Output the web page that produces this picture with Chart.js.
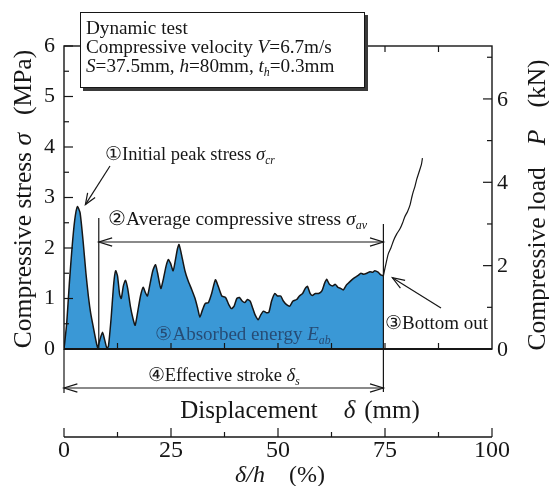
<!DOCTYPE html>
<html>
<head>
<meta charset="utf-8">
<script src="https://cdn.jsdelivr.net/npm/chart.js@4.4.1/dist/chart.umd.min.js"></script>
<style>
  html, body { margin: 0; padding: 0; background: #ffffff; }
  canvas { display: block; }
</style>
</head>
<body>
<canvas id="chart" width="549" height="486"></canvas>
<script>
// Stress–displacement record of the dynamic crush test (up to bottoming out)
const displacementMm = [
  0, 0.5, 1.0, 1.5, 2.0, 2.5, 3.0, 3.6, 4.1, 4.55, 5.0, 5.5, 6.0, 6.3, 6.7, 7.2, 7.6, 8.0, 8.3, 8.8,
  9.3, 9.65, 10.0, 10.4, 10.7, 11.1, 11.5, 11.9, 12.4, 12.9, 13.3, 13.8, 14.3, 14.8, 15.2, 15.6, 16.1, 16.6, 17.1, 17.5,
  18.1, 18.6, 19.1, 19.5, 19.9, 20.4, 20.8, 21.2, 21.5, 21.9, 22.6, 23.2, 23.9, 24.5, 25.0, 25.4, 25.9, 26.4, 27.0, 27.6,
  28.3, 28.8, 29.5, 30.2, 30.8, 31.3, 31.8, 32.3, 32.8, 33.3, 33.8, 34.3, 34.8, 35.3, 35.7, 36.3, 36.8, 37.3, 37.8, 38.3,
  38.8, 39.4, 39.9, 40.5, 41.0, 41.6, 42.2, 42.8, 43.5, 44.0, 44.6, 45.1, 45.5, 46.0, 46.4, 47.0, 47.6, 48.2, 48.7, 49.1,
  49.6, 50.2, 50.7, 51.2, 51.7, 52.2, 52.8, 53.3, 53.9, 54.4, 55.0, 55.5, 56.0, 56.6, 57.2, 57.7, 58.1, 58.7, 59.2, 59.7
];
const stressMPa = [
  0, 0.5, 1.3, 2.0, 2.55, 2.82, 2.7, 2.1, 1.5, 1.05, 0.7, 0.42, 0.15, 0.03, 0.18, 0.33, 0.18, 0.02, 0.05, 0.6,
  1.3, 1.55, 1.45, 1.08, 1.0, 1.25, 1.36, 1.2, 0.85, 0.6, 0.47, 0.75, 1.05, 1.22, 1.12, 1.05, 1.3, 1.55, 1.67, 1.5,
  1.2, 1.4, 1.65, 1.77, 1.7, 1.55, 1.75, 1.98, 2.07, 1.9, 1.55, 1.35, 1.17, 1.0, 0.8, 0.63, 0.78, 0.9, 0.92, 1.1,
  1.37, 1.25, 1.05, 1.02, 0.88, 0.8, 0.85, 1.0, 1.02, 0.95, 0.92, 0.98, 0.95, 0.8, 0.68, 0.58, 0.68, 0.75, 0.72, 0.73,
  0.95, 1.1, 1.05, 1.05, 0.95, 0.88, 0.85, 0.95, 0.98, 1.05, 1.1, 1.2, 1.24, 1.1, 1.06, 1.1, 1.1, 1.15, 1.3, 1.38,
  1.28, 1.25, 1.28, 1.22, 1.2, 1.17, 1.27, 1.32, 1.38, 1.42, 1.46, 1.5, 1.48, 1.5, 1.53, 1.52, 1.55, 1.52, 1.47, 1.45
];
// Load rise after bottoming out
const bottomOutMm = [59.7, 60.1, 60.6, 61.1, 61.6, 62.2, 62.8, 63.3, 63.7, 64.2, 64.7, 65.0, 65.3, 65.6, 65.9, 66.2, 66.5, 66.8, 67.0];
const bottomOutMPa = [1.45, 1.65, 1.88, 2.0, 2.15, 2.28, 2.38, 2.5, 2.62, 2.72, 2.86, 3.0, 3.12, 3.22, 3.35, 3.45, 3.55, 3.65, 3.78];

// Axis ticks
const stressTicks = [0, 1, 2, 3, 4, 5, 6];
const loadTicks = [0, 2, 4, 6];
const ratioTicks = [0, 25, 50, 75, 100];

// Test parameters
const specimenHeightMm = 80;
const loadAxisMaxKN = 7.27;
const avgStartMm = 6.5;     // start of the averaging range
const strokeEndMm = 59.7;   // bottom-out point = effective stroke

const SERIF = '"Liberation Serif", "Times New Roman", "DejaVu Serif", serif';
const INK = '#161616';
const FILL = '#3a98d6';

function fnt(px, italic) { return (italic ? 'italic ' : '') + px + 'px ' + SERIF; }

// Draw a run of text pieces (italic / subscript / extra gap) starting at x
function textRun(ctx, segs, x, y, size, align) {
  let w = 0;
  const parts = segs.map(s => {
    const sz = s.sub ? size * 0.62 : size;
    ctx.font = fnt(sz, s.it);
    const adv = ctx.measureText(s.t).width + (s.gap || 0);
    w += adv;
    return { s, sz, adv };
  });
  let cx = align === 'center' ? x - w / 2 : (align === 'right' ? x - w : x);
  ctx.textAlign = 'left';
  for (const p of parts) {
    ctx.font = fnt(p.sz, p.s.it);
    ctx.fillText(p.s.t, cx, y + (p.s.sub ? size * 0.22 : 0));
    cx += p.adv;
  }
}

function line(ctx, x1, y1, x2, y2) {
  ctx.beginPath(); ctx.moveTo(x1, y1); ctx.lineTo(x2, y2); ctx.stroke();
}

function arrowHead(ctx, x, y, ang, len, spread) {
  ctx.beginPath();
  ctx.moveTo(x - len * Math.cos(ang - spread), y - len * Math.sin(ang - spread));
  ctx.lineTo(x, y);
  ctx.lineTo(x - len * Math.cos(ang + spread), y - len * Math.sin(ang + spread));
  ctx.stroke();
}

const axesAndNotes = {
  id: 'axesAndNotes',
  afterDatasetsDraw(chart) {
    const { ctx, chartArea: a, scales } = chart;
    const sx = scales.x, sy = scales.y, sLoad = scales.load, sPct = scales.pct;
    ctx.save();
    ctx.strokeStyle = INK;
    ctx.fillStyle = INK;
    ctx.lineCap = 'butt';

    // frame
    ctx.lineWidth = 1.4;
    ctx.strokeRect(a.left, a.top, a.right - a.left, a.bottom - a.top);
    ctx.lineWidth = 2.2;
    line(ctx, a.left, a.bottom, a.right, a.bottom);

    // stress ticks (inside, left)
    ctx.lineWidth = 1.2;
    for (let v = 0; v <= 6.001; v += 0.5) {
      const y = sy.getPixelForValue(v);
      const len = Number.isInteger(v) ? 9 : 5;
      line(ctx, a.left, y, a.left + len, y);
    }
    // load ticks (inside, right)
    for (let v = 1; v <= loadAxisMaxKN; v += 1) {
      const y = sLoad.getPixelForValue(v);
      const len = v % 2 === 0 ? 9 : 5;
      line(ctx, a.right, y, a.right - len, y);
    }
    // displacement ticks on top and bottom edges
    for (let v = 10; v < specimenHeightMm; v += 10) {
      const x = sx.getPixelForValue(v);
      line(ctx, x, a.bottom, x, a.bottom - 6);
      line(ctx, x, a.top, x, a.top + 6);
    }

    // tick labels
    ctx.textBaseline = 'middle';
    ctx.font = fnt(22);
    ctx.textAlign = 'right';
    stressTicks.forEach(v => ctx.fillText(String(v), 55, sy.getPixelForValue(v)));
    ctx.textAlign = 'left';
    loadTicks.forEach(v => ctx.fillText(String(v), 497, sLoad.getPixelForValue(v) + 1));

    // δ/h axis below the plot
    const pctY = 437;
    ctx.lineWidth = 1.4;
    line(ctx, sPct.getPixelForValue(0), pctY, sPct.getPixelForValue(100), pctY);
    ctx.lineWidth = 1.2;
    for (let v = 0; v <= 100; v += 12.5) {
      const x = sPct.getPixelForValue(v);
      const len = v % 25 === 0 ? 9 : 5;
      line(ctx, x, pctY, x, pctY - len);
    }
    ctx.textBaseline = 'alphabetic';
    ctx.textAlign = 'center';
    ctx.font = fnt(24);
    ratioTicks.forEach(v => ctx.fillText(String(v), sPct.getPixelForValue(v), 457));
    textRun(ctx, [{ t: 'δ/h', it: true, gap: 24 }, { t: '(%)' }], 280, 482, 24, 'center');

    // axis titles
    textRun(ctx, [{ t: 'Displacement', gap: 26 }, { t: 'δ', it: true, gap: 9 }, { t: '(mm)' }], 300, 418, 25, 'center');

    ctx.save();
    ctx.translate(31, 199);
    ctx.rotate(-Math.PI / 2);
    textRun(ctx, [{ t: 'Compressive stress ' }, { t: 'σ', it: true, gap: 18 }, { t: '(MPa)' }], 0, 0, 25.5, 'center');
    ctx.restore();

    ctx.save();
    ctx.translate(545, 205);
    ctx.rotate(-Math.PI / 2);
    textRun(ctx, [{ t: 'Compressive load', gap: 22 }, { t: 'P', it: true, gap: 22 }, { t: '(kN)' }], 0, 0, 25.5, 'center');
    ctx.restore();

    // ① initial peak stress
    ctx.lineWidth = 1.2;
    textRun(ctx, [{ t: '①' }, { t: 'Initial peak stress ' }, { t: 'σ', it: true }, { t: 'cr', it: true, sub: true }], 105, 160, 18.5, 'left');
    const px = sx.getPixelForValue(2.5) + 8, py = sy.getPixelForValue(2.82) - 2;
    line(ctx, 110, 166, px, py);
    arrowHead(ctx, px, py, Math.atan2(py - 166, px - 110), 12, 0.38);

    // ② average compressive stress range
    const xAvg0 = sx.getPixelForValue(avgStartMm);
    const xEnd = sx.getPixelForValue(strokeEndMm);
    textRun(ctx, [{ t: '②' }, { t: 'Average compressive stress ' }, { t: 'σ', it: true }, { t: 'av', it: true, sub: true }], 108, 225, 19.5, 'left');
    line(ctx, xAvg0, 218, xAvg0, a.bottom);
    line(ctx, xEnd, 224, xEnd, 392);
    const yAvg = 242;
    line(ctx, xAvg0, yAvg, xEnd, yAvg);
    arrowHead(ctx, xAvg0, yAvg, Math.PI, 14, 0.3);
    arrowHead(ctx, xEnd, yAvg, 0, 14, 0.3);

    // ③ bottom out
    textRun(ctx, [{ t: '③' }, { t: 'Bottom out' }], 385, 329, 19, 'left');
    const bx = xEnd + 9, by = sy.getPixelForValue(1.45) + 2;
    line(ctx, 441, 308, bx, by);
    arrowHead(ctx, bx, by, Math.atan2(by - 308, bx - 441), 13, 0.35);

    // ④ effective stroke
    const x0 = sx.getPixelForValue(0);
    line(ctx, x0, a.bottom, x0, 393);
    const yS = 388;
    line(ctx, x0, yS, xEnd, yS);
    arrowHead(ctx, x0, yS, Math.PI, 14, 0.3);
    arrowHead(ctx, xEnd, yS, 0, 14, 0.3);
    textRun(ctx, [{ t: '④' }, { t: 'Effective stroke ' }, { t: 'δ', it: true }, { t: 's', it: true, sub: true }], (x0 + xEnd) / 2, 381, 18.5, 'center');

    // ⑤ absorbed energy
    ctx.fillStyle = 'rgba(35, 62, 100, 0.85)';
    textRun(ctx, [{ t: '⑤' }, { t: 'Absorbed energy ' }, { t: 'E', it: true }, { t: 'ab', it: true, sub: true }], 243, 340, 19, 'center');

    // test condition box
    ctx.fillStyle = '#3a3a3a';
    ctx.fillRect(83, 15, 285, 76);
    ctx.fillStyle = '#ffffff';
    ctx.fillRect(80, 12, 285, 76);
    ctx.lineWidth = 1;
    ctx.strokeRect(80.5, 12.5, 284, 75);
    ctx.fillStyle = INK;
    textRun(ctx, [{ t: 'Dynamic test' }], 86, 34, 19.2, 'left');
    textRun(ctx, [{ t: 'Compressive velocity ' }, { t: 'V', it: true }, { t: '=6.7m/s' }], 86, 53, 19.2, 'left');
    textRun(ctx, [{ t: 'S', it: true }, { t: '=37.5mm, ' }, { t: 'h', it: true }, { t: '=80mm, ' }, { t: 't', it: true }, { t: 'h', it: true, sub: true }, { t: '=0.3mm' }], 86, 72, 19.2, 'left');

    ctx.restore();
  }
};

new Chart(document.getElementById('chart'), {
  type: 'line',
  data: {
    datasets: [
      {
        data: displacementMm.map((x, i) => ({ x, y: stressMPa[i] })),
        xAxisID: 'x', yAxisID: 'y',
        borderColor: INK, borderWidth: 1.5,
        backgroundColor: FILL, fill: 'origin',
        pointRadius: 0, tension: 0.2
      },
      {
        data: bottomOutMm.map((x, i) => ({ x, y: bottomOutMPa[i] })),
        xAxisID: 'x', yAxisID: 'y',
        borderColor: INK, borderWidth: 1.2,
        fill: false, pointRadius: 0, tension: 0.2
      }
    ]
  },
  options: {
    responsive: false,
    animation: false,
    events: [],
    layout: { padding: { left: 64, right: 57, top: 46, bottom: 137 } },
    plugins: { legend: { display: false }, tooltip: { enabled: false } },
    scales: {
      x: { type: 'linear', min: 0, max: specimenHeightMm, display: false },
      pct: { type: 'linear', axis: 'x', position: 'bottom', min: 0, max: 100, display: false },
      y: { type: 'linear', min: 0, max: 6, display: false },
      load: { type: 'linear', axis: 'y', position: 'right', min: 0, max: loadAxisMaxKN, display: false }
    }
  },
  plugins: [axesAndNotes]
});
</script>
</body>
</html>
